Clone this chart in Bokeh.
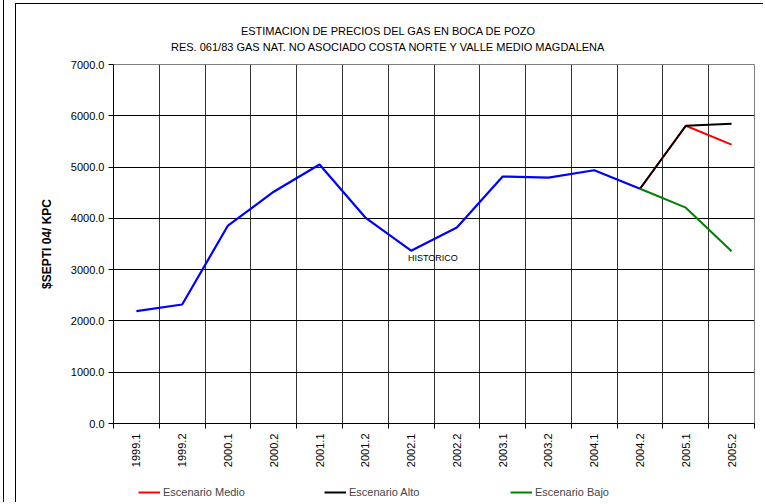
from bokeh.plotting import figure
from bokeh.models import (FixedTicker, NumeralTickFormatter, Label, Legend, LegendItem,
                          Range1d, InlineStyleSheet)
from bokeh.layouts import column
from bokeh.embed import file_html
from bokeh.resources import INLINE
import math

periods = ["1999.1", "1999.2", "2000.1", "2000.2", "2001.1", "2001.2", "2002.1",
           "2002.2", "2003.1", "2003.2", "2004.1", "2004.2", "2005.1", "2005.2"]
historico = [2190, 2320, 3860, 4520, 5050, 4015, 3370, 3820, 4815, 4795, 4938, 4577]
medio = [4577, 5806, 5437]
alto = [4577, 5806, 5845]
bajo = [4577, 4208, 3359]
y_ticks = [0, 1000, 2000, 3000, 4000, 5000, 6000, 7000]
title_lines = ["ESTIMACION DE PRECIOS DEL GAS EN BOCA DE POZO",
               "RES. 061/83 GAS NAT. NO ASOCIADO COSTA NORTE Y VALLE MEDIO MAGDALENA"]
legend_labels = ["Escenario Medio", "Escenario Alto", "Escenario Bajo"]

n = len(periods)
centers = [i + 0.5 for i in range(n)]
bounds = list(range(n + 1))
hist_x = centers[:len(historico)]
scen_x = centers[len(historico) - 1:]

FONT = "Liberation Sans"
W = 763
LEFT = 113
RIGHT = 9


def strip(height):
    # frame aligned with the main chart's frame; x data units equal page pixels
    f = figure(width=W, height=height, output_backend="svg", toolbar_location=None,
               x_range=Range1d(LEFT, W - RIGHT), y_range=Range1d(0, height),
               min_border_left=LEFT, min_border_right=RIGHT,
               min_border_top=0, min_border_bottom=0)
    f.axis.visible = False
    f.grid.visible = False
    f.outline_line_color = None
    return f


# ---- title strip
top = strip(56)
for txt, yy in zip(title_lines, [26, 10]):
    top.add_layout(Label(x=388, y=yy, text=txt, text_font=FONT, text_font_size="11px",
                         text_color="black", text_align="center", text_baseline="middle"))

# ---- main chart
p = figure(width=W, height=416, output_backend="svg", toolbar_location=None,
           x_range=Range1d(0, n), y_range=Range1d(0, 7000),
           min_border_left=LEFT, min_border_right=RIGHT, min_border_top=8,
           min_border_bottom=49)

p.outline_line_color = "#808080"
p.outline_line_width = 1

p.xgrid.ticker = FixedTicker(ticks=bounds)
p.xgrid.grid_line_color = "#333333"
p.ygrid.ticker = FixedTicker(ticks=y_ticks)
p.ygrid.grid_line_color = "#000000"

xa = p.xaxis[0]
xa.ticker = FixedTicker(ticks=centers, minor_ticks=bounds)
xa.major_label_overrides = {c: lab for c, lab in zip(centers, periods)}
xa.major_tick_line_color = None
xa.minor_tick_in = 0
xa.minor_tick_out = 5
xa.minor_tick_line_color = "black"
xa.major_label_orientation = math.pi / 2
xa.major_label_text_font = FONT
xa.major_label_text_font_size = "11px"
xa.major_label_text_color = "black"
xa.major_label_standoff = 4
xa.axis_line_color = "black"

ya = p.yaxis[0]
ya.ticker = FixedTicker(ticks=y_ticks)
ya.formatter = NumeralTickFormatter(format="0.0")
ya.minor_tick_line_color = None
ya.major_tick_in = 0
ya.major_tick_out = 5
ya.major_tick_line_color = "black"
ya.major_label_text_font = FONT
ya.major_label_text_font_size = "11px"
ya.major_label_text_color = "black"
ya.major_label_standoff = 4
ya.axis_line_color = "black"
ya.axis_label = "$SEPTI 04/ KPC"
ya.axis_label_text_font = FONT
ya.axis_label_text_font_size = "12px"
ya.axis_label_text_font_style = "bold"
ya.axis_label_text_color = "black"
ya.axis_label_standoff = 14

p.line(hist_x, historico, line_color="#0000FF", line_width=2.2)
p.line(scen_x, medio, line_color="#FF0000", line_width=2)
p.line(scen_x, alto, line_color="#000000", line_width=2)
p.line(scen_x, bajo, line_color="#008000", line_width=2)

p.add_layout(Label(x=6.43, y=3220, text="HISTORICO", text_font=FONT,
                   text_font_size="9px", text_color="black",
                   text_baseline="middle", text_align="left"))

# ---- legend strip (series drawn here fall outside its ranges; only the legend shows)
bot = strip(30)
colors = ["#FF0000", "#000000", "#008000"]
items = []
for lab, c, ys in zip(legend_labels, colors, [medio, alto, bajo]):
    r = bot.line(scen_x, ys, line_color=c, line_width=2)
    items.append(LegendItem(label=lab, renderers=[r]))
legend = Legend(items=items, orientation="horizontal", location=(25, 4),
                glyph_width=22, glyph_height=12, label_standoff=3, label_width=161,
                spacing=0, padding=0, margin=0,
                label_text_font=FONT, label_text_font_size="11px",
                border_line_color=None, background_fill_alpha=0)
bot.add_layout(legend, "center")

# chart-area frame lines (decorative page border of the original sheet)
frame_css = InlineStyleSheet(css="""
:host::before { content: ""; position: absolute; left: 15px; top: 3px; right: 0;
  bottom: 0; border-left: 1px solid #000; border-top: 1px solid #000;
  pointer-events: none; z-index: 10; }
:host::after { content: ""; position: absolute; left: 3px; top: 0; width: 0;
  bottom: 0; border-left: 1px solid #000; pointer-events: none; z-index: 10; }
""")

layout = column(top, p, bot, spacing=0, stylesheets=[frame_css])
open("out.html", "w").write(file_html(layout, INLINE))
